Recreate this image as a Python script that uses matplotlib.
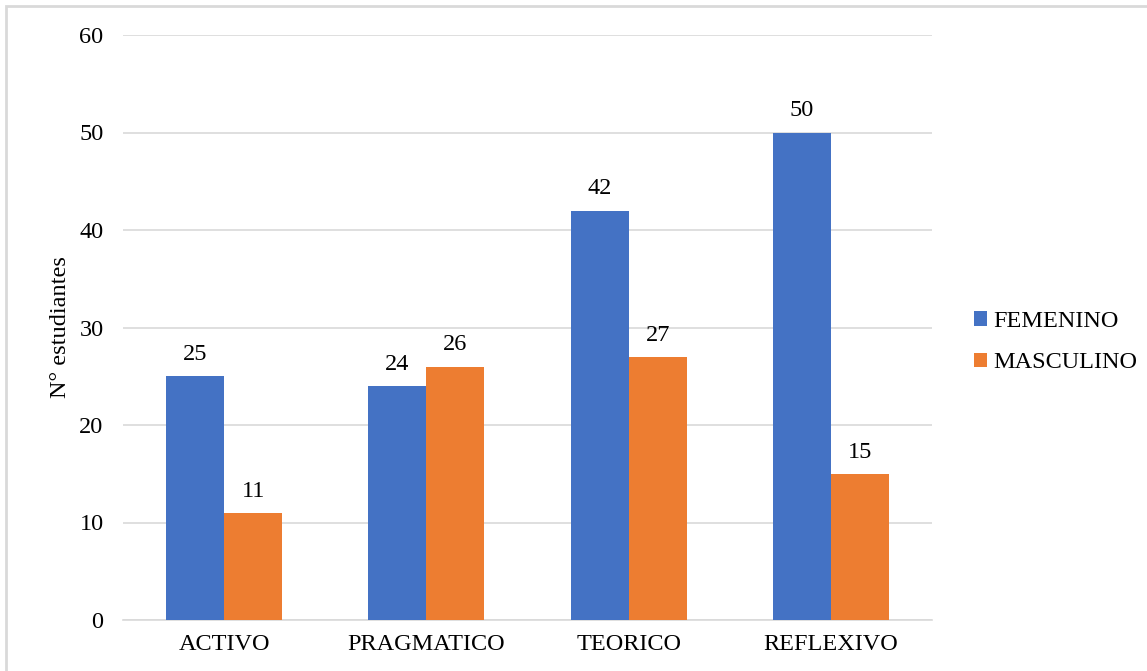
import numpy as np
import matplotlib.pyplot as plt
from matplotlib.patches import Rectangle

categorias = ['ACTIVO', 'PRAGMATICO', 'TEORICO', 'REFLEXIVO']
femenino = [25, 24, 42, 50]
masculino = [11, 26, 27, 15]

plt.rcParams['font.family'] = ['Liberation Serif', 'DejaVu Serif']

fig = plt.figure(figsize=(11.47, 6.71), dpi=100)
ax = fig.add_axes([123/1147, 1 - 620/671, (932-123)/1147, (620-35)/671])

x = np.arange(len(categorias))
w = 0.287
b1 = ax.bar(x - w/2, femenino, w, color='#4472C4', label='FEMENINO', zorder=3)
b2 = ax.bar(x + w/2, masculino, w, color='#ED7D31', label='MASCULINO', zorder=3)
for bars in (b1, b2):
    ax.bar_label(bars, padding=8, fontsize=17.5)

ax.set_ylim(0, 60)
ax.set_xlim(-0.5, 3.5)
ax.set_yticks(range(0, 61, 10))
ax.set_xticks(x)
ax.set_xticklabels(categorias)
ax.tick_params(axis='both', length=0, labelsize=17.5)
ax.tick_params(axis='y', pad=14)
ax.tick_params(axis='x', pad=10)
ax.grid(axis='y', color='#d9d9d9', linewidth=1.2, zorder=0)
for s in ['top', 'right', 'left']:
    ax.spines[s].set_visible(False)
ax.spines['bottom'].set_color('#d9d9d9')
ax.spines['bottom'].set_linewidth(1.2)
ax.set_ylabel('N° estudiantes', fontsize=17.5, labelpad=6)

ax.legend(loc='center left', bbox_to_anchor=(1.025, 0.475), frameon=False,
          fontsize=17.5, handlelength=0.55, handleheight=0.55, handletextpad=0.25,
          labelspacing=0.85)

fig.patches.append(Rectangle((6/1147, -0.1), 1.2, 1 - 6/671 + 0.1,
                             transform=fig.transFigure, fill=False,
                             edgecolor='#d9d9d9', linewidth=2))

fig.savefig('out.png', dpi=100)
